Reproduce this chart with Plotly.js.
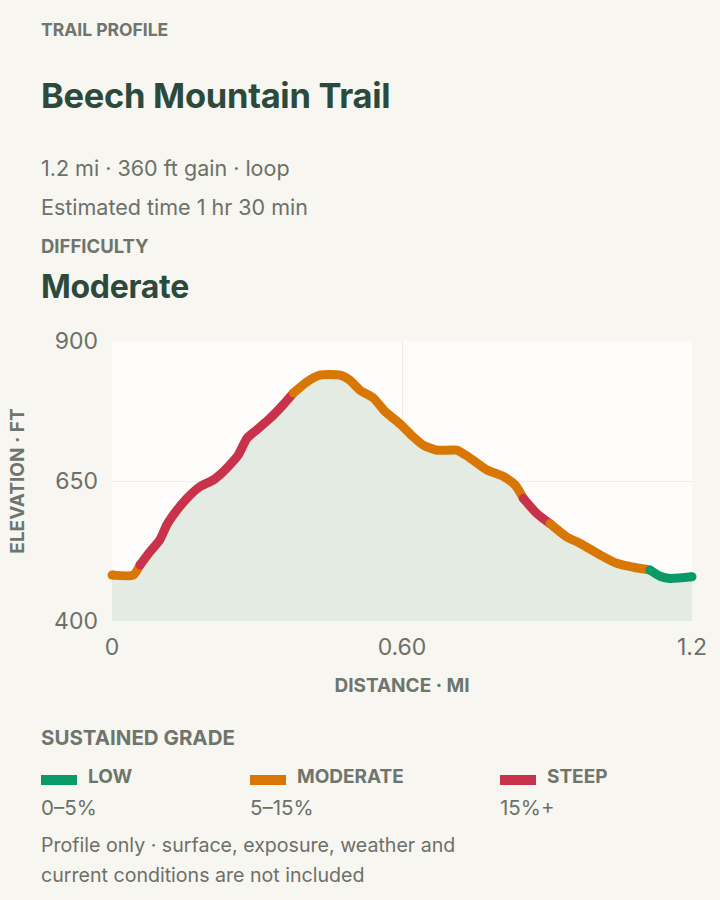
<!DOCTYPE html>
<html>
<head>
<meta charset="utf-8">
<script src="https://cdn.plot.ly/plotly-3.0.1.min.js"></script>
<style>
  html, body { margin: 0; padding: 0; background: #f7f6f1; width: 720px; height: 900px; overflow: hidden; font-family: Inter, "Noto Sans", sans-serif; }
  .t { position: absolute; left: 41px; white-space: nowrap; }
  .kicker { font-weight: 700; color: #6e756c; }
  .title { font-weight: 700; color: #2c4a3c; letter-spacing: -0.3px; }
  .sub { color: #6c7069; }
  .sw { position: absolute; width: 36px; height: 10px; }
  .ll { position: absolute; font-weight: 700; font-size: 19px; color: #6e756c; }
  .lv { position: absolute; font-size: 20.5px; color: #6c7069; }
  #chart { position: absolute; left: 0; top: 320px; width: 720px; height: 390px; }
</style>
</head>
<body>
<div class="t kicker" style="top:19px; font-size:17.5px;">TRAIL PROFILE</div>
<div class="t title" style="top:75px; font-size:34.5px;">Beech Mountain Trail</div>
<div class="t sub" style="top:155px; font-size:21.5px;">1.2 mi · 360 ft gain · loop</div>
<div class="t sub" style="top:194px; font-size:21.5px;">Estimated time 1 hr 30 min</div>
<div class="t kicker" style="top:235px; font-size:18.5px;">DIFFICULTY</div>
<div class="t title" style="top:267px; font-size:32px;">Moderate</div>

<div id="chart"></div>

<div class="t kicker" style="top:725px; font-size:20.5px;">SUSTAINED GRADE</div>
<div id="legend"></div>
<div class="t sub" style="top:833px; font-size:19.6px;">Profile only · surface, exposure, weather and</div>
<div class="t sub" style="top:863px; font-size:19.6px;">current conditions are not included</div>

<script>
// ---- data ----
const distanceMi = [0.000, 0.044, 0.058, 0.079, 0.099, 0.113, 0.124, 0.155, 0.182, 0.210, 0.227, 0.244, 0.261, 0.279, 0.299, 0.327, 0.354, 0.375, 0.403, 0.430, 0.472, 0.492, 0.513, 0.541, 0.565, 0.596, 0.623, 0.644, 0.672, 0.713, 0.734, 0.775, 0.810, 0.834, 0.851, 0.879, 0.906, 0.941, 0.968, 1.010, 1.044, 1.079, 1.113, 1.134, 1.155, 1.200];
const elevationFt = [482, 482, 500, 524, 545, 571, 586, 619, 640, 652, 664, 679, 696, 726, 741, 762, 786, 807, 827, 839, 839, 830, 812, 798, 774, 752, 729, 714, 705, 705, 695, 670, 658, 643, 619, 592, 574, 550, 539, 518, 503, 496, 491, 480, 476, 479];
// grade class of the stretch that starts at each point
const gradeClass = ['M','M','S','S','S','S','S','S','S','S','S','S','S','S','S','S','S','M','M','M','M','M','M','M','M','M','M','M','M','M','M','M','M','M','S','S','M','M','M','M','M','M','L','L','L','L'];
const gradeKeys = ['L','M','S'];
const gradeNames = ['LOW','MODERATE','STEEP'];
const gradeRanges = ['0–5%','5–15%','15%+'];
const gradeColors = ['#0a9a68','#d97706','#c8324a'];
const yTicks = [400, 650, 900];
const xTicks = [0, 0.6, 1.2];
const xTickText = ['0', '0.60', '1.2'];

const colorOf = k => gradeColors[gradeKeys.indexOf(k)];

// ---- traces ----
const traces = [{
  x: distanceMi, y: elevationFt, type: 'scatter', mode: 'lines',
  line: { width: 0, shape: 'spline', smoothing: 0.6 },
  fill: 'tozeroy', fillcolor: '#e4ebe3', hoverinfo: 'skip', showlegend: false
}];
const n = distanceMi.length;
let start = 0;
for (let i = 1; i < n; i++) {
  if (i === n - 1 || gradeClass[i] !== gradeClass[start]) {
    traces.push({
      x: distanceMi.slice(start, i + 1), y: elevationFt.slice(start, i + 1),
      type: 'scatter', mode: 'lines',
      line: { color: colorOf(gradeClass[start]), width: 9, shape: 'spline', smoothing: 0.6 },
      hoverinfo: 'skip', showlegend: false
    });
    start = i;
  }
}
// round end caps that overhang the plot edge
traces.push({
  x: [distanceMi[0], distanceMi[n - 1]], y: [elevationFt[0], elevationFt[n - 1]],
  type: 'scatter', mode: 'markers', cliponaxis: false,
  marker: { size: 9, color: [colorOf(gradeClass[0]), colorOf(gradeClass[n - 2])], line: { width: 0 } },
  hoverinfo: 'skip', showlegend: false
});

const layout = {
  width: 720, height: 390,
  margin: { l: 112, r: 28, t: 21, b: 89 },
  paper_bgcolor: 'rgba(0,0,0,0)',
  plot_bgcolor: '#fdfcfa',
  font: { family: 'Inter, "Noto Sans", sans-serif', color: '#6c7069', size: 23 },
  xaxis: {
    range: [0, 1.2], tickvals: xTicks, ticktext: xTickText,
    showgrid: true, gridcolor: '#eeede9', gridwidth: 1, zeroline: false, showline: false,
    ticks: '', tickfont: { size: 23, color: '#6c7069' }, ticklabelstandoff: 10,
    title: { text: 'DISTANCE · MI', font: { size: 19, color: '#6e756c', weight: 700 }, standoff: 18 }
  },
  yaxis: {
    range: [400, 900], tickvals: yTicks,
    showgrid: true, gridcolor: '#eeede9', gridwidth: 1, zeroline: false, showline: false,
    ticks: '', tickfont: { size: 23, color: '#6c7069' }, ticklabelstandoff: 13,
    title: { text: 'ELEVATION · FT', font: { size: 19, color: '#6e756c', weight: 700 }, standoff: 24 }
  }
};

Plotly.newPlot('chart', traces, layout, { staticPlot: true, displayModeBar: false }).then(() => {
  document.querySelectorAll('#chart path.js-line').forEach(p => {
    p.style.strokeLinecap = 'round';
    p.style.strokeLinejoin = 'round';
  });
});

// ---- legend (HTML text) ----
const legendX = [41, 250, 500];
const leg = document.getElementById('legend');
gradeNames.forEach((name, i) => {
  const sw = document.createElement('div');
  sw.className = 'sw'; sw.style.left = legendX[i] + 'px'; sw.style.top = '775px'; sw.style.background = gradeColors[i];
  leg.appendChild(sw);
  const l = document.createElement('div');
  l.className = 'll'; l.style.left = (legendX[i] + 47) + 'px'; l.style.top = '765px'; l.textContent = name;
  leg.appendChild(l);
  const v = document.createElement('div');
  v.className = 'lv'; v.style.left = legendX[i] + 'px'; v.style.top = '795px'; v.textContent = gradeRanges[i];
  leg.appendChild(v);
});
</script>
</body>
</html>
